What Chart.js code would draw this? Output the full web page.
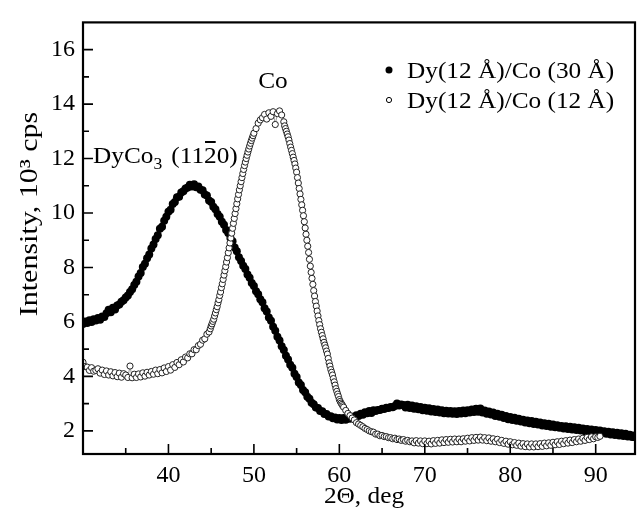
<!DOCTYPE html>
<html>
<head>
<meta charset="utf-8">
<title>Dy/Co XRD</title>
<script src="https://cdn.jsdelivr.net/npm/chart.js@4.4.0/dist/chart.umd.min.js"></script>
<style>
  html, body { margin: 0; padding: 0; background: #fff; }
  #xrd { display: block; }
</style>
</head>
<body>
<canvas id="xrd" width="641" height="518"></canvas>
<script>
// ---- data (2 theta in deg, intensity in 10^3 cps) ----

// Dy(12 A)/Co(30 A), filled circles: scan starts at 30 deg, 0.25 deg step
var filledStart = 30, filledStep = 0.25;
var filledY = [
  5.92, 6.02, 5.96, 6.06,    // 30
  6.0, 6.1, 6.05, 6.14,      // 31
  6.08, 6.2, 6.18, 6.32,     // 32
  6.45, 6.36, 6.52, 6.46,    // 33
  6.6, 6.64, 6.74, 6.8,      // 34
  6.9, 6.97, 7.1, 7.2,       // 35
  7.36, 7.48, 7.67, 7.8,     // 36
  8.02, 8.14, 8.34, 8.48,    // 37
  8.7, 8.84, 9.05, 9.18,     // 38
  9.42, 9.5, 9.72, 9.86,     // 39
  10.05, 10.12, 10.33, 10.4, // 40
  10.58, 10.6, 10.75, 10.8,  // 41
  10.9, 10.94, 11.04, 10.97, // 42
  11.06, 10.95, 10.97, 10.85,// 43
  10.84, 10.68, 10.64, 10.46,// 44
  10.4, 10.23, 10.14, 9.96,  // 45
  9.86, 9.68, 9.57, 9.38,    // 46
  9.27, 9.08, 8.96, 8.73,    // 47
  8.6, 8.38, 8.24, 8.06,     // 48
  7.94, 7.74, 7.62, 7.43,    // 49
  7.32, 7.13, 7.02, 6.83,    // 50
  6.72, 6.5, 6.38, 6.16,     // 51
  6.04, 5.82, 5.68, 5.46,    // 52
  5.32, 5.11, 4.97, 4.76,    // 53
  4.62, 4.43, 4.32, 4.1,     // 54
  3.98, 3.78, 3.68, 3.5,     // 55
  3.42, 3.25, 3.18, 3.03,    // 56
  2.98, 2.86, 2.84, 2.73,    // 57
  2.72, 2.62, 2.62, 2.53,    // 58
  2.54, 2.46, 2.49, 2.42,    // 59
  2.47, 2.4, 2.47, 2.41,     // 60
  2.49, 2.44, 2.52, 2.5,     // 61
  2.57, 2.55, 2.63, 2.59,    // 62
  2.68, 2.65, 2.73, 2.66,    // 63
  2.76, 2.73, 2.77, 2.77,    // 64
  2.81, 2.8, 2.85, 2.84,     // 65
  2.88, 2.87, 2.91, 3.0,     // 66
  2.93, 2.97, 2.95, 2.86,    // 67
  2.96, 2.84, 2.93, 2.81,    // 68
  2.9, 2.79, 2.88, 2.76,     // 69
  2.85, 2.74, 2.83, 2.71,    // 70
  2.8, 2.69, 2.78, 2.67,     // 71
  2.76, 2.65, 2.74, 2.64,    // 72
  2.73, 2.63, 2.72, 2.62,    // 73
  2.73, 2.64, 2.75, 2.65,    // 74
  2.76, 2.67, 2.78, 2.69,    // 75
  2.81, 2.7, 2.82, 2.67,     // 76
  2.75, 2.63, 2.71, 2.6,     // 77
  2.67, 2.55, 2.63, 2.52,    // 78
  2.59, 2.47, 2.55, 2.43,    // 79
  2.51, 2.4, 2.48, 2.37,     // 80
  2.44, 2.34, 2.41, 2.31,    // 81
  2.38, 2.28, 2.36, 2.25,    // 82
  2.33, 2.23, 2.31, 2.2,     // 83
  2.28, 2.18, 2.26, 2.15,    // 84
  2.23, 2.13, 2.21, 2.11,    // 85
  2.18, 2.09, 2.17, 2.07,    // 86
  2.15, 2.05, 2.13, 2.03,    // 87
  2.11, 2.01, 2.09, 1.99,    // 88
  2.07, 1.97, 2.05, 1.95,    // 89
  2.03, 1.93, 2.01, 1.91,    // 90
  1.99, 1.89, 1.97, 1.87,    // 91
  1.95, 1.85, 1.93, 1.83,    // 92
  1.91, 1.81, 1.89, 1.79,    // 93
  1.86, 1.77, 1.83           // 94
];

// Dy(12 A)/Co(12 A), open circles: the scan is finer over the Co peak flanks
var openLowStart = 30, openLowStep = 0.25;
var openLow = [
  4.52, 4.36, 4.34, 4.22,  4.32, 4.19, 4.22, 4.28,
  4.12, 4.23, 4.07, 4.2,   4.05, 4.17, 4.02, 4.14,
  3.99, 4.12, 3.97, 4.1,   4.05, 3.96, 4.38, 3.95,
  4.08, 3.96, 4.09, 3.98,  4.13, 4.01, 4.15, 4.05,
  4.18, 4.08, 4.23, 4.1,   4.25, 4.13, 4.31, 4.18,
  4.36, 4.23, 4.43, 4.33,  4.51, 4.43, 4.61, 4.53,
  4.71, 4.68, 4.83, 4.83,  4.98, 4.98, 5.13, 5.18,
  5.33, 5.38, 5.55, 5.63
];
var openRiseStart = 44.9, openRiseStep = 0.1;
var openRise = [
  5.75, 5.85, 5.93, 6.02, 6.1, 6.22, 6.33, 6.45, 6.56, 6.7, 6.82,
  6.97, 7.1, 7.26, 7.4, 7.56, 7.72, 7.88, 8.03, 8.2, 8.36,
  8.54, 8.72, 8.9, 9.08, 9.26, 9.44, 9.62, 9.8, 9.98, 10.16,
  10.34, 10.52, 10.68, 10.85, 11.0, 11.15, 11.3, 11.45, 11.6, 11.74,
  11.87, 12.0, 12.12, 12.24, 12.35, 12.46, 12.56, 12.66, 12.75, 12.84
];
var openPeakStart = 50, openPeakStep = 0.25;
var openPeak = [
  12.93, 13.1, 13.3, 13.42, 13.5, 13.62, 13.45, 13.68,
  13.55, 13.72, 13.25, 13.65, 13.75, 13.6, 13.35
];
var openFallStart = 53.6, openFallStep = 0.1;
var openFall = [
  13.2, 13.1, 13.0, 12.9,
  12.8, 12.68, 12.55, 12.42, 12.3, 12.18, 12.05, 11.93, 11.8, 11.65,
  11.5, 11.3, 11.1, 10.9, 10.7, 10.5, 10.3, 10.1, 9.9, 9.68,
  9.45, 9.22, 9.0, 8.78, 8.55, 8.3, 8.05, 7.82, 7.6, 7.38,
  7.15, 6.95, 6.75, 6.58, 6.4, 6.22, 6.05, 5.9, 5.75, 5.62,
  5.5, 5.38, 5.25, 5.15, 5.05, 4.93, 4.82, 4.66, 4.5, 4.38,
  4.25, 4.15, 4.05, 3.92, 3.8, 3.68, 3.55, 3.45, 3.35, 3.26,
  3.15, 3.08, 3.02, 2.97, 2.92
];
var openTailStart = 60.5, openTailStep = 0.25;
var openTail = [
  2.87, 2.75,
  2.64, 2.56, 2.47, 2.4,   2.3, 2.25, 2.2, 2.15,
  2.09, 2.05, 2.0, 1.97,   1.95, 1.88, 1.88, 1.82,
  1.83, 1.79, 1.79, 1.75,  1.75, 1.71, 1.73, 1.68,
  1.7, 1.65, 1.68, 1.62,   1.65, 1.6, 1.63, 1.56,
  1.64, 1.55, 1.63, 1.53,  1.63, 1.53, 1.62, 1.52,
  1.64, 1.54, 1.65, 1.55,  1.67, 1.57, 1.68, 1.58,
  1.69, 1.59, 1.7, 1.6,    1.7, 1.6, 1.71, 1.62,
  1.73, 1.63, 1.75, 1.65,  1.76, 1.66, 1.77, 1.66,
  1.75, 1.64, 1.74, 1.62,  1.71, 1.6, 1.69, 1.57,
  1.65, 1.54, 1.62, 1.51,  1.6, 1.49, 1.57, 1.47,
  1.55, 1.44, 1.53, 1.42,  1.52, 1.41, 1.52, 1.41,
  1.52, 1.42, 1.53, 1.43,  1.55, 1.45, 1.56, 1.47,
  1.58, 1.49, 1.6, 1.5,    1.62, 1.53, 1.64, 1.55,
  1.66, 1.57, 1.68, 1.6,   1.7, 1.62, 1.73, 1.65,
  1.76, 1.68, 1.78, 1.71,  1.78, 1.76, 1.8
];

// axes
var xMajorTicks = [40, 50, 60, 70, 80, 90];
var xMinorTicks = [35, 45, 55, 65, 75, 85];
var yMajorTicks = [2, 4, 6, 8, 10, 12, 14, 16];
var yMinorTicks = [3, 5, 7, 9, 11, 13, 15];
var seriesNames = ['Dy(12 \u00C5)/Co (30 \u00C5)', 'Dy(12 \u00C5)/Co (12 \u00C5)'];

var serif = "'Liberation Serif', 'Times New Roman', serif";

function toPoints(start, step, ys) {
  var pts = [];
  for (var i = 0; i < ys.length; i++) {
    pts.push({ x: +(start + i * step).toFixed(2), y: ys[i] });
  }
  return pts;
}

var filledPts = toPoints(filledStart, filledStep, filledY);
var openPts = [].concat(
  toPoints(openLowStart, openLowStep, openLow),
  toPoints(openRiseStart, openRiseStep, openRise),
  toPoints(openPeakStart, openPeakStep, openPeak),
  toPoints(openFallStart, openFallStep, openFall),
  toPoints(openTailStart, openTailStep, openTail)
);

// text drawn a bit wider than tall, like the scanned figure
function wideText(ctx, txt, x, y, sx) {
  ctx.save();
  ctx.translate(x, y);
  ctx.scale(sx, 1);
  ctx.fillText(txt, 0, 0);
  ctx.restore();
  return ctx.measureText(txt).width * sx;
}

var frameAndText = {
  id: 'frameAndText',
  afterDraw: function(chart) {
    var ctx = chart.ctx, a = chart.chartArea;
    var x = chart.scales.x, y = chart.scales.y;
    ctx.save();

    // inward ticks
    ctx.strokeStyle = '#000';
    ctx.lineWidth = 1.6;
    ctx.beginPath();
    xMajorTicks.forEach(function(v) {
      var p = x.getPixelForValue(v);
      ctx.moveTo(p, a.bottom); ctx.lineTo(p, a.bottom - 10);
    });
    xMinorTicks.forEach(function(v) {
      var p = x.getPixelForValue(v);
      ctx.moveTo(p, a.bottom); ctx.lineTo(p, a.bottom - 6);
    });
    yMajorTicks.forEach(function(v) {
      var p = y.getPixelForValue(v);
      ctx.moveTo(a.left, p); ctx.lineTo(a.left + 10, p);
    });
    yMinorTicks.forEach(function(v) {
      var p = y.getPixelForValue(v);
      ctx.moveTo(a.left, p); ctx.lineTo(a.left + 6, p);
    });
    ctx.stroke();

    // frame
    ctx.lineWidth = 2.2;
    ctx.strokeRect(a.left, a.top, a.right - a.left, a.bottom - a.top);

    ctx.fillStyle = '#000';
    ctx.textBaseline = 'alphabetic';
    ctx.textAlign = 'left';

    // legend
    ctx.beginPath();
    ctx.arc(389, 70, 3.5, 0, Math.PI * 2);
    ctx.fill();
    ctx.beginPath();
    ctx.lineWidth = 1;
    ctx.arc(389, 100, 2.6, 0, Math.PI * 2);
    ctx.stroke();
    ctx.font = '23px ' + serif;
    wideText(ctx, seriesNames[0], 407, 78, 1.1);
    wideText(ctx, seriesNames[1], 407, 108, 1.1);

    // peak labels
    ctx.textAlign = 'center';
    wideText(ctx, 'Co', 273, 88, 1.1);
    ctx.textAlign = 'left';
    var px = 93;
    px += wideText(ctx, 'DyCo', px, 163, 1.1);
    ctx.font = '16px ' + serif;
    px += wideText(ctx, '3', px, 169, 1.1) + 9;
    ctx.font = '23px ' + serif;
    px += wideText(ctx, '(11', px, 163, 1.1);
    var w2 = wideText(ctx, '2', px, 163, 1.1);
    ctx.fillRect(px + 1, 141, w2 - 2, 2);
    px += w2;
    wideText(ctx, '0)', px, 163, 1.1);

    // axis titles
    ctx.textAlign = 'center';
    ctx.textBaseline = 'middle';
    ctx.font = '23px ' + serif;
    wideText(ctx, '2\u0398, deg', (a.left + a.right) / 2 + 5, 497, 1.1);
    ctx.save();
    ctx.translate(30, 214);
    ctx.rotate(-Math.PI / 2);
    ctx.font = '25px ' + serif;
    wideText(ctx, 'Intensity, 10\u00B3 cps', 0, 0, 1.2);
    ctx.restore();

    ctx.restore();
  }
};

new Chart(document.getElementById('xrd'), {
  type: 'scatter',
  data: {
    datasets: [
      {
        label: seriesNames[1],
        data: openPts,
        order: 0,
        showLine: true,
        borderColor: '#555',
        borderWidth: 0.6,
        pointRadius: 3.1,
        pointBorderWidth: 1,
        pointBorderColor: '#222',
        pointBackgroundColor: '#fff',
        clip: 1
      },
      {
        label: seriesNames[0],
        data: filledPts,
        order: 1,
        showLine: false,
        pointRadius: 4,
        pointBorderWidth: 0,
        pointBackgroundColor: '#000',
        pointBorderColor: '#000',
        clip: 1
      }
    ]
  },
  options: {
    responsive: false,
    animation: false,
    devicePixelRatio: 1,
    layout: { padding: { top: 10, right: 6, left: 0, bottom: 0 } },
    plugins: {
      legend: { display: false },
      tooltip: { enabled: false }
    },
    scales: {
      x: {
        type: 'linear',
        min: 30,
        max: 94.6,
        grid: { display: false, drawTicks: false },
        border: { display: false },
        ticks: {
          stepSize: 10,
          includeBounds: false,
          padding: 7,
          color: '#000',
          font: { family: serif, size: 24 },
          callback: function(v) { return v === 30 ? '' : v; }
        },
        afterFit: function(s) { s.height = 64; }
      },
      y: {
        type: 'linear',
        min: 1.15,
        max: 17,
        grid: { display: false, drawTicks: false },
        border: { display: false },
        ticks: {
          stepSize: 2,
          includeBounds: false,
          padding: 8,
          color: '#000',
          font: { family: serif, size: 24 }
        },
        afterFit: function(s) { s.width = 83; }
      }
    }
  },
  plugins: [frameAndText]
});
</script>
</body>
</html>
